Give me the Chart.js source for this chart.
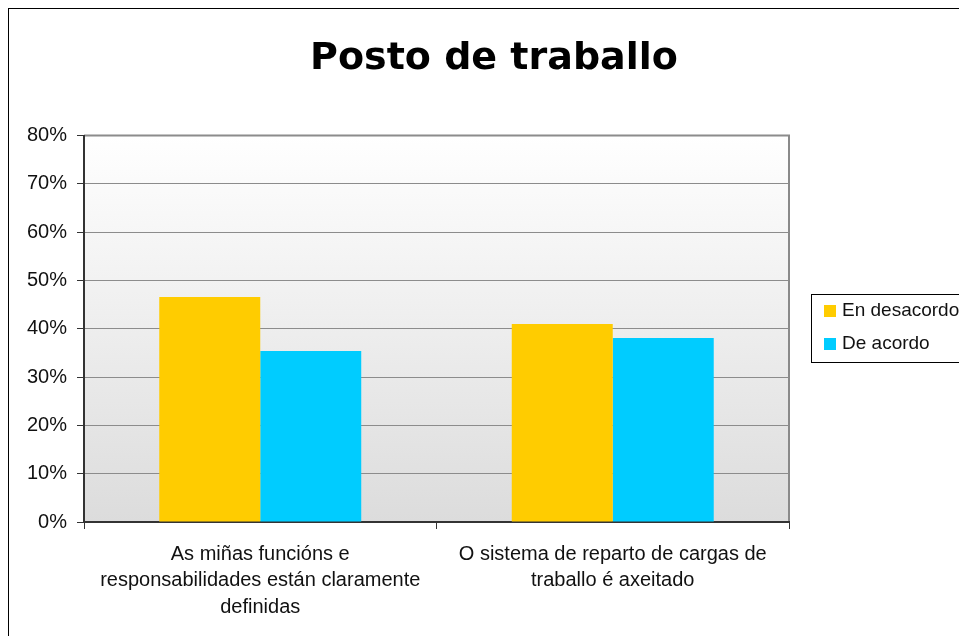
<!DOCTYPE html>
<html lang="gl">

<head>
    <meta charset="UTF-8">
    <title>Posto de traballo</title>
    <style>
        body {
            margin: 0;
            padding: 0;
            background-color: #fff;
            overflow: hidden;
        }
    </style>
</head>

<body>
    <canvas id="chart" width="988" height="660"></canvas>

    <script src="https://cdn.jsdelivr.net/npm/chart.js"></script>
    <script>
        // chart data
        const chartTitle = 'Posto de traballo';
        const categories = [
            ['As miñas funcións e', 'responsabilidades están claramente', 'definidas'],
            ['O sistema de reparto de cargas de', 'traballo é axeitado']
        ];
        const seriesNames = ['En desacordo', 'De acordo'];
        const enDesacordo = [46.6, 41.0];
        const deAcordo = [35.4, 38.1];
        const seriesColors = ['#FFCC00', '#00CCFF'];
        const yMax = 80;
        const yStep = 10;

        const labelFont = {
            family: "'Liberation Sans', Arial, sans-serif",
            size: 20
        };

        // white background, outer frame and gradient plot area
        const backgroundPlugin = {
            id: 'background',
            beforeDraw(chart) {
                const ctx = chart.ctx;
                const area = chart.chartArea;
                ctx.save();
                ctx.fillStyle = '#fff';
                ctx.fillRect(0, 0, chart.width, chart.height);
                ctx.strokeStyle = '#000';
                ctx.lineWidth = 1;
                ctx.strokeRect(8.5, 8.5, 971, 700);

                const grad = ctx.createLinearGradient(0, area.top, 0, area.bottom);
                grad.addColorStop(0, '#ffffff');
                grad.addColorStop(1, '#dcdcdc');
                ctx.fillStyle = grad;
                ctx.fillRect(area.left, area.top, area.right - area.left, area.bottom - area.top);

                ctx.strokeStyle = '#8a8a8a';
                ctx.lineWidth = 2;
                ctx.beginPath();
                ctx.moveTo(area.left, area.top);
                ctx.lineTo(area.right, area.top);
                ctx.lineTo(area.right, area.bottom);
                ctx.stroke();
                ctx.restore();
            }
        };

        // boxed legend to the right of the plot
        const boxLegendPlugin = {
            id: 'boxLegend',
            afterDraw(chart) {
                const ctx = chart.ctx;
                const x = 811, y = 294, w = 170, h = 68;
                ctx.save();
                ctx.strokeStyle = '#000';
                ctx.lineWidth = 1;
                ctx.strokeRect(x + 0.5, y + 0.5, w, h);
                ctx.font = '19px ' + labelFont.family;
                ctx.textBaseline = 'middle';
                chart.data.datasets.forEach((ds, i) => {
                    const cy = y + 17 + i * 33;
                    ctx.fillStyle = ds.backgroundColor;
                    ctx.fillRect(x + 13, cy - 6, 12, 12);
                    ctx.fillStyle = '#111';
                    ctx.fillText(ds.label, x + 31, cy);
                });
                ctx.restore();
            }
        };

        new Chart(document.getElementById('chart'), {
            type: 'bar',
            data: {
                labels: categories,
                datasets: [{
                    label: seriesNames[0],
                    data: enDesacordo,
                    backgroundColor: seriesColors[0]
                }, {
                    label: seriesNames[1],
                    data: deAcordo,
                    backgroundColor: seriesColors[1]
                }]
            },
            options: {
                responsive: false,
                animation: false,
                datasets: {
                    bar: {
                        barPercentage: 1,
                        categoryPercentage: 0.573
                    }
                },
                plugins: {
                    legend: {
                        display: false
                    },
                    tooltip: {
                        enabled: false
                    },
                    title: {
                        display: true,
                        text: chartTitle,
                        color: '#000',
                        font: {
                            family: "'DejaVu Sans', sans-serif",
                            size: 38,
                            weight: 'bold'
                        },
                        padding: {
                            top: 36,
                            bottom: 54
                        }
                    }
                },
                scales: {
                    x: {
                        grid: {
                            drawOnChartArea: false,
                            tickLength: 7,
                            tickColor: '#333'
                        },
                        border: {
                            color: '#333',
                            width: 2
                        },
                        ticks: {
                            color: '#111',
                            font: {
                                ...labelFont,
                                lineHeight: 1.33
                            },
                            padding: 12,
                            maxRotation: 0,
                            autoSkip: false
                        },
                        afterFit(scale) {
                            scale.height = 138;
                        }
                    },
                    y: {
                        min: 0,
                        max: yMax,
                        grid: {
                            color: '#8c8c8c',
                            tickLength: 7,
                            tickColor: '#333'
                        },
                        border: {
                            color: '#333',
                            width: 2
                        },
                        ticks: {
                            stepSize: yStep,
                            color: '#111',
                            font: labelFont,
                            padding: 10,
                            callback: value => value + '%'
                        },
                        afterFit(scale) {
                            scale.width = 84;
                        }
                    },
                    // empty right axis keeps room for the legend
                    legendSpace: {
                        type: 'linear',
                        position: 'right',
                        grid: {
                            display: false
                        },
                        border: {
                            display: false
                        },
                        ticks: {
                            display: false
                        },
                        afterFit(scale) {
                            scale.width = 199;
                        }
                    }
                }
            },
            plugins: [backgroundPlugin, boxLegendPlugin]
        });
    </script>

</body>

</html>
